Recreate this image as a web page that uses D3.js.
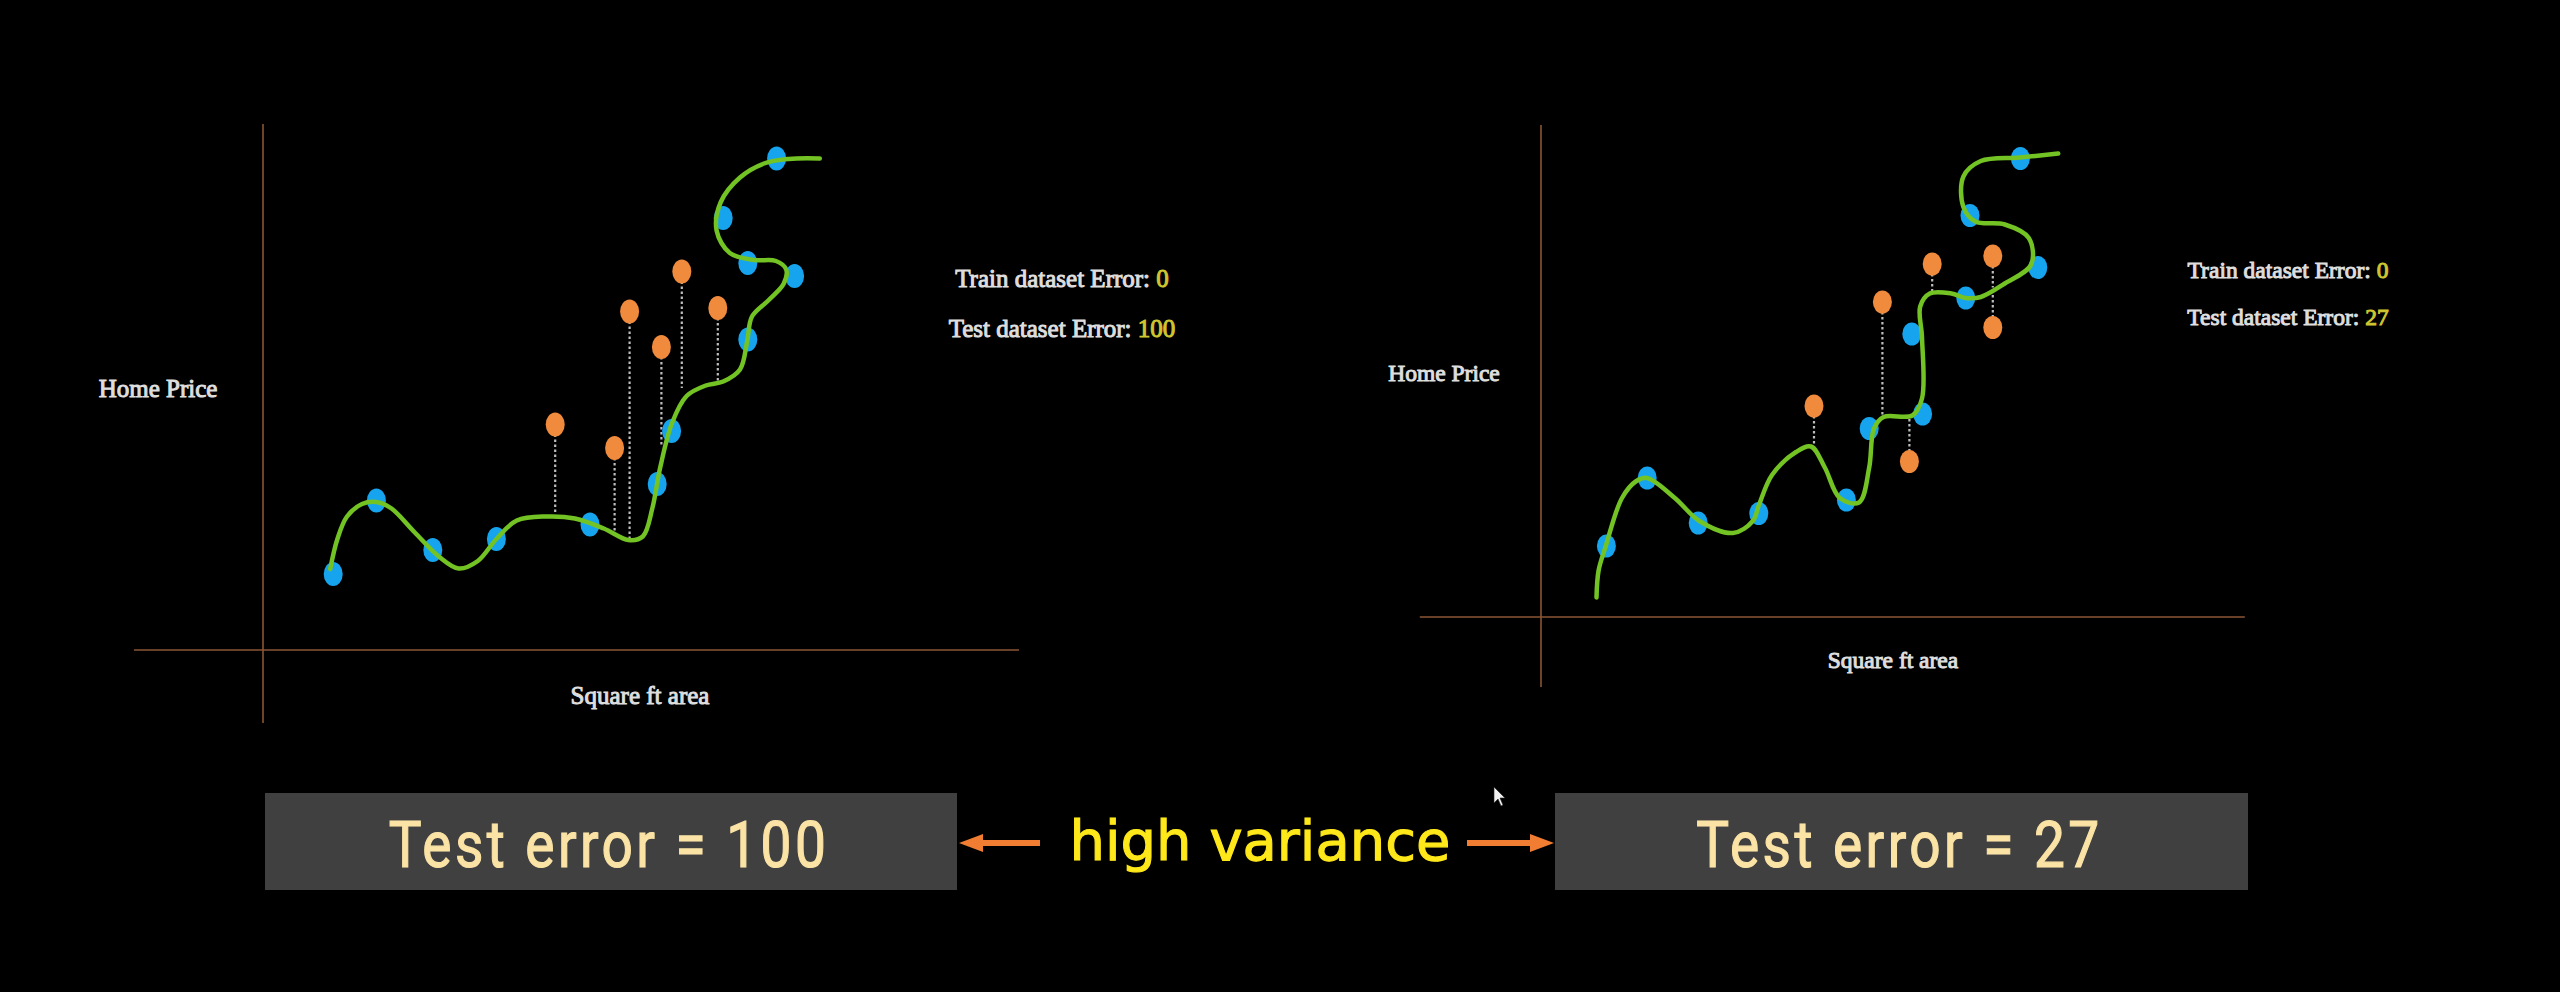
<!DOCTYPE html>
<html>
<head>
<meta charset="utf-8">
<script src="https://cdn.jsdelivr.net/npm/d3@7"></script>
<style>
  html, body { margin: 0; padding: 0; background: #000; overflow: hidden; }
  svg { display: block; }
</style>
</head>
<body>
<svg id="chart" width="2560" height="992"></svg>
<script>
// ---------------- DATA (abstract units: square-ft area 0-100, home price 0-100) ----------------
// Left panel: overfit model, test error 100
const leftTrainX = [11.7, 18.9, 28.3, 38.9, 54.5, 65.7, 68.1, 80.8, 80.8, 88.6, 76.7, 85.6];
const leftTrainY = [15.2, 29.9, 20.0, 22.2, 25.1, 33.2, 43.8, 62.1, 77.4, 74.8, 86.4, 98.3];
const leftTestX  = [48.7, 58.6, 61.1, 66.4, 69.8, 75.8];
const leftTestY  = [45.1, 40.4, 67.7, 60.6, 75.7, 68.4];
const leftTestPredY = [27.1, 23.1, 22.2, 40.6, 52.4, 53.7];
const leftCurveX = [11.2, 12.4, 14.0, 16.5, 18.9, 21.3, 25.3, 29.4, 32.6, 35.8, 38.9, 42.3, 47.2, 52.0, 56.8, 60.9, 63.3, 64.9, 66.2, 68.2, 70.6, 73.8, 76.7, 79.5, 80.7, 81.5, 84.3, 86.8, 87.2, 85.5, 81.8, 77.8, 75.6, 76.3, 79.5, 83.5, 87.6, 92.8];
const leftCurveY = [16.2, 22.2, 26.7, 29.2, 29.6, 28.4, 23.5, 18.6, 16.3, 17.8, 22.2, 25.9, 26.7, 26.3, 24.3, 22.0, 22.7, 28.4, 36.5, 45.5, 50.8, 52.9, 53.7, 56.1, 61.8, 66.7, 70.0, 73.3, 76.1, 77.8, 78.0, 79.4, 83.9, 89.6, 94.5, 97.3, 98.2, 98.3];
const leftTrainError = 0;
const leftTestError = 100;

// Right panel: refit model, test error 27
const rightTrainX = [10.9, 17.7, 26.2, 36.3, 50.9, 54.7, 63.6, 61.8, 70.8, 82.8, 71.5, 79.9];
const rightTrainY = [14.2, 27.8, 18.8, 20.7, 23.4, 37.7, 40.6, 56.6, 63.8, 69.9, 80.3, 91.7];
const rightTestX  = [45.5, 56.9, 61.4, 65.2, 75.3, 75.3];
const rightTestY  = [42.2, 63.0, 31.1, 70.6, 72.2, 57.9];
const rightTestPredY = [34.1, 40.0, 40.0, 65.1, 66.0, 66.0];
const rightCurveX = [9.25, 9.6, 10.8, 13.5, 15.9, 17.7, 22.3, 26.4, 32.0, 35.3, 36.3, 38.5, 42.5, 45.0, 47.3, 49.8, 53.0, 54.7, 55.5, 57.1, 61.9, 63.5, 63.5, 63.2, 64.8, 68.4, 70.8, 73.3, 77.3, 81.7, 81.3, 77.3, 72.4, 70.4, 70.4, 73.3, 79.8, 86.2];
const rightCurveY = [3.9, 9.3, 14.2, 23.8, 27.2, 27.8, 23.8, 19.2, 16.8, 19.2, 22.3, 28.4, 33.0, 34.1, 29.9, 23.8, 22.9, 29.9, 37.7, 40.0, 40.3, 43.7, 55.9, 62.1, 64.7, 64.7, 63.8, 64.0, 66.7, 70.5, 75.8, 78.5, 79.1, 82.0, 88.1, 91.2, 91.9, 92.7];
const rightTrainError = 0;
const rightTestError = 27;

const xAxisLabel = "Square ft area";
const yAxisLabel = "Home Price";
const middleLabel = "high variance";

// ---------------- STYLE ----------------
const C = {
  bg: "#000000",
  axis: "#8a5634",
  green: "#72c323",
  blue: "#17a4ee",
  orange: "#f08a3c",
  dotted: "#bdbdbd",
  label: "#dedede",
  value: "#cfc530",
  box: "#404040",
  boxText: "#fbe3a6",
  mid: "#ffe81a",
  arrow: "#f07d32"
};

const svg = d3.select("#chart");
svg.append("rect").attr("width", 2560).attr("height", 992).attr("fill", C.bg);

function panel(cfg) {
  const g = svg.append("g");
  const x = d3.scaleLinear().domain([0, 100]).range([cfg.ox, cfg.ox + cfg.w]);
  const y = d3.scaleLinear().domain([0, 100]).range([cfg.oy, cfg.oy - cfg.h]);

  // axes (plain crossing lines, no ticks)
  g.append("line")
    .attr("x1", x(cfg.xExt[0])).attr("x2", x(cfg.xExt[1]))
    .attr("y1", y(0)).attr("y2", y(0))
    .attr("stroke", C.axis).attr("stroke-width", 1.6);
  g.append("line")
    .attr("x1", x(0)).attr("x2", x(0))
    .attr("y1", y(cfg.yExt[0])).attr("y2", y(cfg.yExt[1]))
    .attr("stroke", C.axis).attr("stroke-width", 1.6);

  // dotted residual lines from test points to model prediction
  g.selectAll("line.res").data(cfg.testX).join("line")
    .attr("class", "res")
    .attr("x1", d => x(d)).attr("x2", d => x(d))
    .attr("y1", (d, i) => y(cfg.testY[i])).attr("y2", (d, i) => y(cfg.predY[i]))
    .attr("stroke", C.dotted).attr("stroke-width", 2.2)
    .attr("stroke-dasharray", "2.5,2.5");

  // training points
  g.selectAll("ellipse.train").data(cfg.trainX).join("ellipse")
    .attr("class", "train")
    .attr("cx", d => x(d)).attr("cy", (d, i) => y(cfg.trainY[i]))
    .attr("rx", cfg.rx).attr("ry", cfg.ry)
    .attr("fill", C.blue);

  // fitted (overfit) curve
  const pts = cfg.curveX.map((d, i) => [d, cfg.curveY[i]]);
  const line = d3.line().x(d => x(d[0])).y(d => y(d[1])).curve(d3.curveCatmullRom.alpha(0.5));
  g.append("path").datum(pts)
    .attr("d", line)
    .attr("fill", "none").attr("stroke", C.green)
    .attr("stroke-width", 4.5).attr("stroke-linecap", "round").attr("stroke-linejoin", "round");

  // test points
  g.selectAll("ellipse.test").data(cfg.testX).join("ellipse")
    .attr("class", "test")
    .attr("cx", d => x(d)).attr("cy", (d, i) => y(cfg.testY[i]))
    .attr("rx", cfg.rx).attr("ry", cfg.ry)
    .attr("fill", C.orange);

  const serif = "'Liberation Serif', 'DejaVu Serif', serif";
  const sw = 1.0;
  // axis labels
  g.append("text").text(yAxisLabel)
    .attr("x", cfg.yLabelPos[0]).attr("y", cfg.yLabelPos[1])
    .attr("text-anchor", "middle").attr("dominant-baseline", "central")
    .attr("font-family", serif).attr("font-size", cfg.fs)
    .attr("fill", C.label).attr("stroke", C.label).attr("stroke-width", sw);
  g.append("text").text(xAxisLabel)
    .attr("x", cfg.xLabelPos[0]).attr("y", cfg.xLabelPos[1])
    .attr("text-anchor", "middle").attr("dominant-baseline", "central")
    .attr("font-family", serif).attr("font-size", cfg.fs)
    .attr("fill", C.label).attr("stroke", C.label).attr("stroke-width", sw);

  // error annotations
  const notes = [["Train dataset Error: ", cfg.trainErr], ["Test dataset Error: ", cfg.testErr]];
  notes.forEach((n, i) => {
    const t = g.append("text")
      .attr("x", cfg.notePos[0]).attr("y", cfg.notePos[1] + i * cfg.noteGap)
      .attr("text-anchor", "middle").attr("dominant-baseline", "central")
      .attr("font-family", serif).attr("font-size", cfg.fs)
      .attr("stroke-width", sw);
    t.append("tspan").text(n[0]).attr("fill", C.label).attr("stroke", C.label);
    t.append("tspan").text(n[1]).attr("fill", C.value).attr("stroke", C.value);
  });
}

panel({
  ox: 263, oy: 650, w: 600, h: 500, rx: 9.5, ry: 12,
  xExt: [-21.5, 126], yExt: [-14.6, 105.2],
  trainX: leftTrainX, trainY: leftTrainY,
  testX: leftTestX, testY: leftTestY, predY: leftTestPredY,
  curveX: leftCurveX, curveY: leftCurveY,
  trainErr: leftTrainError, testErr: leftTestError,
  fs: 25, yLabelPos: [158, 388], xLabelPos: [640, 695],
  notePos: [1062, 278], noteGap: 50
});

panel({
  ox: 1541, oy: 617, w: 600, h: 500, rx: 9.5, ry: 11.5,
  xExt: [-20.2, 117.3], yExt: [-14, 98.4],
  trainX: rightTrainX, trainY: rightTrainY,
  testX: rightTestX, testY: rightTestY, predY: rightTestPredY,
  curveX: rightCurveX, curveY: rightCurveY,
  trainErr: rightTrainError, testErr: rightTestError,
  fs: 23.5, yLabelPos: [1444, 373], xLabelPos: [1893, 660],
  notePos: [2288, 270], noteGap: 47
});

// ---------------- bottom summary ----------------
const boxes = [
  { x: 265, w: 692, text: "Test error = " + leftTestError },
  { x: 1555, w: 693, text: "Test error = " + rightTestError }
];
const bottom = svg.append("g");
boxes.forEach(b => {
  bottom.append("rect").attr("x", b.x).attr("y", 793).attr("width", b.w).attr("height", 97)
    .attr("fill", C.box);
  bottom.append("text").text(b.text)
    .attr("transform", `translate(${b.x + b.w / 2 - 2},867) scale(0.86,1)`)
    .attr("text-anchor", "middle")
    .attr("font-family", "Roboto, 'Open Sans', sans-serif").attr("font-weight", 400)
    .attr("font-size", 64).attr("letter-spacing", 4)
    .attr("fill", C.boxText).attr("stroke", C.boxText).attr("stroke-width", 1.2);
});

bottom.append("text").text(middleLabel)
  .attr("x", 1260).attr("y", 860)
  .attr("text-anchor", "middle")
  .attr("font-family", "'DejaVu Sans', sans-serif")
  .attr("font-size", 56)
  .attr("fill", C.mid).attr("stroke", C.mid).attr("stroke-width", 1.1);

function arrow(x1, x2, yy) {
  // x1 = tail, x2 = tip
  const dir = Math.sign(x2 - x1);
  const headL = 24, headH = 9;
  bottom.append("line")
    .attr("x1", x1).attr("x2", x2 - dir * headL * 0.8).attr("y1", yy).attr("y2", yy)
    .attr("stroke", C.arrow).attr("stroke-width", 6);
  bottom.append("path")
    .attr("d", `M${x2},${yy} L${x2 - dir * headL},${yy - headH} L${x2 - dir * headL},${yy + headH} Z`)
    .attr("fill", C.arrow);
}
arrow(1040, 959, 843);
arrow(1467, 1554, 843);

// mouse cursor visible in the screenshot
svg.append("path")
  .attr("d", "M1494,787 L1494,803 L1498,799 L1501,806 L1503,805 L1500,798 L1505,798 Z")
  .attr("fill", "#f2f2f2").attr("stroke", "#222").attr("stroke-width", 0.6);
</script>
</body>
</html>
